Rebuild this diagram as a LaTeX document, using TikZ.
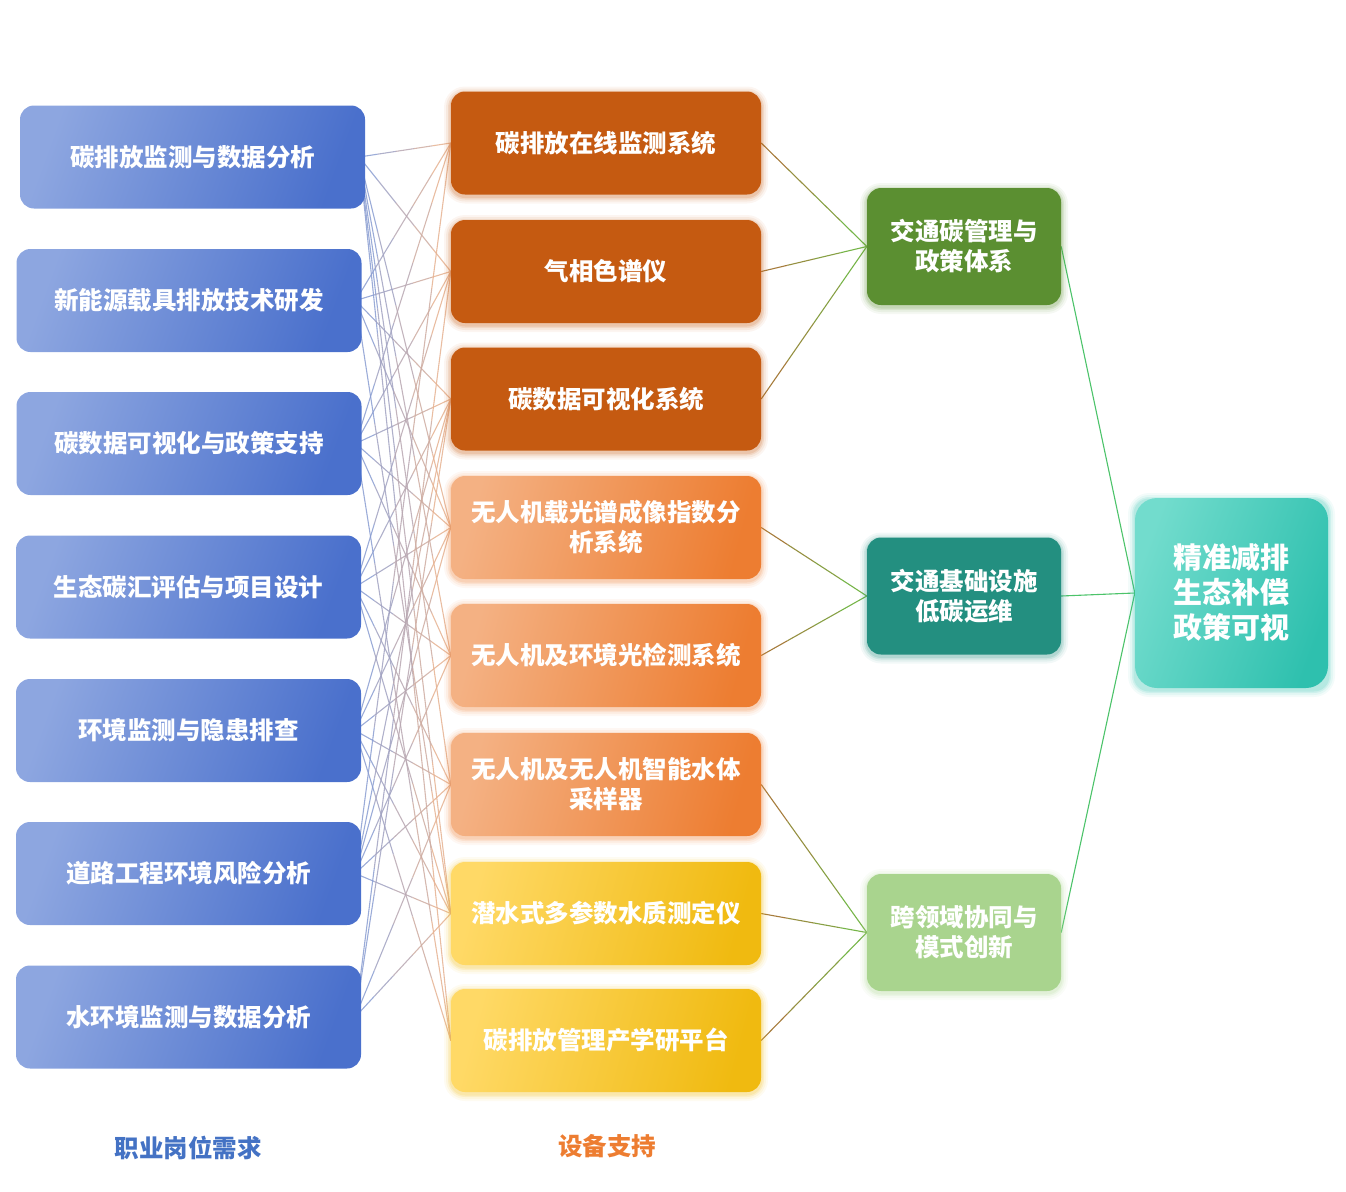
\documentclass[tikz,border=0pt]{standalone}
\usepackage{fontspec}
\setmainfont{Noto Sans CJK SC}
\usetikzlibrary{calc}
\definecolor{lbA}{HTML}{8DA6E0}
\definecolor{lbB}{HTML}{4A70CC}
\definecolor{mdark}{HTML}{C55A11}
\definecolor{moA}{HTML}{F4B183}
\definecolor{moB}{HTML}{ED7D31}
\definecolor{myA}{HTML}{FFD966}
\definecolor{myB}{HTML}{F0BA10}
\definecolor{rg1}{HTML}{5B8F31}
\definecolor{rg2}{HTML}{238F80}
\definecolor{rg3}{HTML}{A9D48E}
\definecolor{fA}{HTML}{72DCCD}
\definecolor{fB}{HTML}{2EC0AE}
\definecolor{lnB}{HTML}{7F9BD9}
\definecolor{lnO}{HTML}{F0B389}
\definecolor{lnBr}{HTML}{B0703A}
\definecolor{lnG}{HTML}{6CC04A}
\definecolor{lnF}{HTML}{4CC36A}
\definecolor{labB}{HTML}{4472C4}
\definecolor{labO}{HTML}{ED7D31}
\pgfdeclarelayer{bg}
\pgfsetlayers{bg,main}
\newcommand\gline[2]{%
  \foreach \i/\j/\k in {0/0.2/90,0.2/0.4/70,0.4/0.6/50,0.6/0.8/30,0.8/1/10}{%
    \draw[lnB!\k!lnO, line width=1.1pt, opacity=0.85] ($(#1.east)+(-6,0)$) ++(0,0) coordinate (tmpA) ($(tmpA)!\i!(#2.west)$) -- ($(tmpA)!\j!(#2.west)$);}}
\newcommand\rline[2]{%
  \foreach \i/\j/\k in {0/0.25/85,0.25/0.5/60,0.5/0.75/40,0.75/1/15}{%
    \draw[lnBr!\k!lnG, line width=1.1pt] ($(#1.east)!\i!(#2.west)$) -- ($(#1.east)!\j!(#2.west)$);}}
\newcommand\glowbox[5]{% x1 y1 x2 y2 colour
  \foreach \d/\o in {7/0.06,5/0.08,3/0.12,1.5/0.15}{%
    \fill[#5, opacity=\o, rounded corners=14pt+\d pt] (#1-\d,#2-\d+2) rectangle (#3+\d,#4+\d+2);}}
\tikzset{
  box/.style={rounded corners=14pt, align=center, text=white, font=\bfseries\fontsize{24.5}{30}\selectfont, inner sep=0pt},
  lbox/.style={box, left color=lbA, right color=lbB, shading angle=70, minimum width=345pt, minimum height=103pt},
  mbox/.style={box, minimum width=310pt, minimum height=103pt},
  mdk/.style={mbox, fill=mdark},
  mor/.style={mbox, left color=moA, right color=moB, shading angle=75},
  myl/.style={mbox, left color=myA, right color=myB, shading angle=75},
  rbox/.style={box, minimum width=194pt, minimum height=117pt},
  lab/.style={font=\bfseries\fontsize{24.5}{28}\selectfont}
}
\begin{document}
\begin{tikzpicture}[x=1pt,y=-1pt]
\useasboundingbox (0,0) rectangle (1346,1191);
% left column
\node[lbox] (L1) at (192.5,157) {碳排放监测与数据分析};
\node[lbox] (L2) at (189,300.5) {新能源载具排放技术研发};
\node[lbox] (L3) at (189,443.5) {碳数据可视化与政策支持};
\node[lbox] (L4) at (188.5,587) {生态碳汇评估与项目设计};
\node[lbox] (L5) at (188.5,730.5) {环境监测与隐患排查};
\node[lbox] (L6) at (188.5,873.5) {道路工程环境风险分析};
\node[lbox] (L7) at (188.5,1017) {水环境监测与数据分析};
% middle glows
\foreach \yy/\cc in {143/mdark,271.5/mdark,399/mdark,527.5/moB,655.5/moB,784.5/moB,913.5/myB,1040.5/myB}{
  \glowbox{451}{\yy-51.5}{761}{\yy+51.5}{\cc}}
% middle column
\node[mdk] (M1) at (606,143) {碳排放在线监测系统};
\node[mdk] (M2) at (606,271.5) {气相色谱仪};
\node[mdk] (M3) at (606,399) {碳数据可视化系统};
\node[mor] (M4) at (606,527.5) {无人机载光谱成像指数分\\析系统};
\node[mor] (M5) at (606,655.5) {无人机及环境光检测系统};
\node[mor] (M6) at (606,784.5) {无人机及无人机智能水体\\采样器};
\node[myl] (M7) at (606,913.5) {潜水式多参数水质测定仪};
\node[myl] (M8) at (606,1040.5) {碳排放管理产学研平台};
% right column
\glowbox{867}{188}{1061}{305}{rg1}
\glowbox{867}{537.5}{1061}{654.5}{rg2}
\glowbox{867}{874}{1061}{991}{rg3}
\node[rbox, fill=rg1] (R1) at (964,246.5) {交通碳管理与\\政策体系};
\node[rbox, fill=rg2] (R2) at (964,596) {交通基础设施\\低碳运维};
\node[rbox, fill=rg3] (R3) at (964,932.5) {跨领域协同与\\模式创新};
\glowbox{1135}{498}{1328}{688}{fB}
\node[box, left color=fA, right color=fB, shading angle=70, minimum width=193pt, minimum height=190pt, rounded corners=22pt, font=\bfseries\fontsize{29}{35}\selectfont] (F) at (1231.5,593) {精准减排\\生态补偿\\政策可视};
% labels
\node[lab, text=labB] (T1) at (188,1148) {职业岗位需求};
\node[lab, text=labO] (T2) at (607,1146) {设备支持};
% connectors
\begin{pgfonlayer}{bg}
\gline{L1}{M1}\gline{L1}{M2}\gline{L1}{M4}\gline{L1}{M5}\gline{L1}{M6}\gline{L1}{M7}\gline{L1}{M8}
\gline{L2}{M1}\gline{L2}{M2}\gline{L2}{M3}\gline{L2}{M4}\gline{L2}{M7}
\gline{L3}{M1}\gline{L3}{M2}\gline{L3}{M3}\gline{L3}{M4}\gline{L3}{M5}\gline{L3}{M8}
\gline{L4}{M2}\gline{L4}{M3}\gline{L4}{M4}\gline{L4}{M5}\gline{L4}{M6}\gline{L4}{M7}
\gline{L5}{M3}\gline{L5}{M4}\gline{L5}{M5}\gline{L5}{M6}\gline{L5}{M7}\gline{L5}{M8}
\gline{L6}{M1}\gline{L6}{M3}\gline{L6}{M4}\gline{L6}{M5}\gline{L6}{M6}\gline{L6}{M7}
\gline{L7}{M2}\gline{L7}{M3}\gline{L7}{M6}\gline{L7}{M7}
\rline{M1}{R1}\rline{M2}{R1}\rline{M3}{R1}
\rline{M4}{R2}\rline{M5}{R2}
\rline{M6}{R3}\rline{M7}{R3}\rline{M8}{R3}
\draw[lnF, line width=1.1pt] (R1.east) -- (F.west);
\draw[lnF, line width=1.1pt] (R2.east) -- (F.west);
\draw[lnF, line width=1.1pt] (R3.east) -- (F.west);
\end{pgfonlayer}
\end{tikzpicture}
\end{document}
